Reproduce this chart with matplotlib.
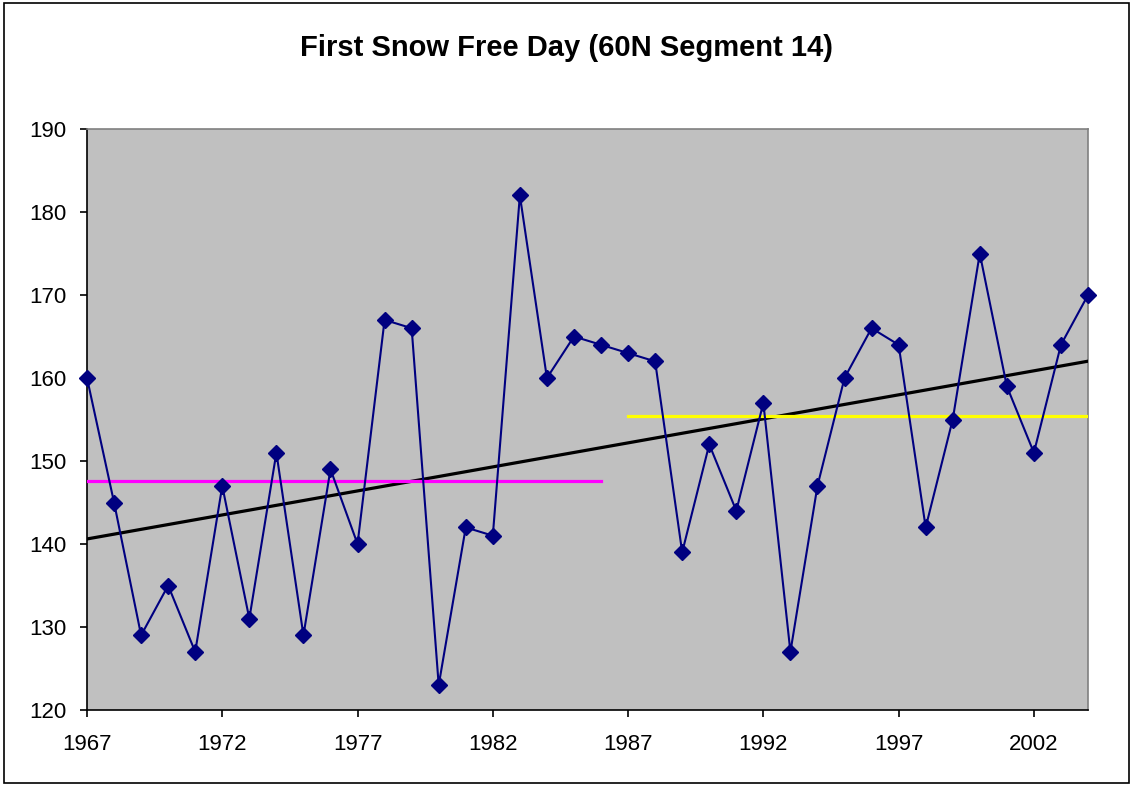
import numpy as np
import matplotlib
matplotlib.use('Agg')
import matplotlib.pyplot as plt
from matplotlib.patches import Rectangle

# First snow free day per year
years = np.arange(1967, 2005)
snow_free_day = [160, 145, 129, 135, 127, 147, 131, 151, 129, 149,
                 140, 167, 166, 123, 142, 141, 182, 160, 165, 164,
                 163, 162, 139, 152, 144, 157, 127, 147, 160, 166,
                 164, 142, 155, 175, 159, 151, 164, 170]

split_year = 1987
x_ticks = [1967, 1972, 1977, 1982, 1987, 1992, 1997, 2002]
y_ticks = [120, 130, 140, 150, 160, 170, 180, 190]

plt.rcParams['font.family'] = ['Liberation Sans', 'DejaVu Sans']

fig = plt.figure(figsize=(11.33, 7.86), dpi=100)
ax = fig.add_axes([87 / 1133, 1 - 710 / 786, 1001 / 1133, 581 / 786])
ax.set_facecolor('#C0C0C0')

y = np.array(snow_free_day, dtype=float)

# linear trend over all years
slope, intercept = np.polyfit(years, y, 1)
ax.plot(years, slope * years + intercept, color='black', lw=2.3, zorder=3)

# period means
early = years < split_year
late = ~early
ax.plot([years[early][0], years[early][-1]], [y[early].mean()] * 2,
        color='#FF00FF', lw=2.3, zorder=3)
ax.plot([years[late][0], years[late][-1]], [y[late].mean()] * 2,
        color='#FFFF00', lw=2.3, zorder=3)

ax.plot(years, y, color='#000080', lw=1.5, marker='D', markersize=8,
        zorder=4, clip_on=False)

ax.set_xlim(1967, 2004)
ax.set_ylim(120, 190)
ax.set_xticks(x_ticks)
ax.set_yticks(y_ticks)
ax.tick_params(axis='both', direction='out', length=5, width=1.2,
               labelsize=16, colors='black')
ax.tick_params(axis='x', pad=12)
ax.tick_params(axis='y', pad=10)

for side in ['left', 'bottom']:
    ax.spines[side].set_color('black')
    ax.spines[side].set_linewidth(1.2)
for side in ['top', 'right']:
    ax.spines[side].set_color('#808080')
    ax.spines[side].set_linewidth(1.2)

fig.text(0.5, 1 - 48 / 786, 'First Snow Free Day (60N Segment 14)',
         ha='center', va='center', fontsize=21, fontweight='bold')

# chart border
fig.patches.append(Rectangle((4 / 1133, 3 / 786), 1125 / 1133, 780 / 786,
                             transform=fig.transFigure, fill=False,
                             edgecolor='black', lw=1.2))

fig.savefig('out.png', dpi=100)
